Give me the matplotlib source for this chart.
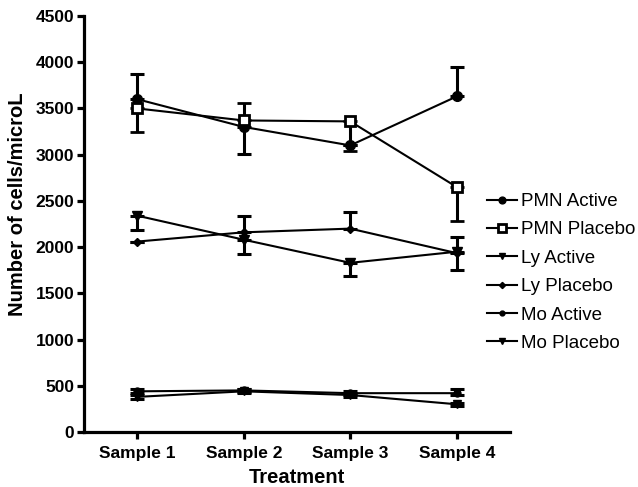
import matplotlib
matplotlib.use('Agg')
from matplotlib import pyplot as plt
from matplotlib.lines import Line2D
import numpy as np

plt.rcParams['font.family'] = ['Liberation Sans', 'DejaVu Sans']

# x categories
samples = ['Sample 1', 'Sample 2', 'Sample 3', 'Sample 4']

# means per series
pmn_active = [3600, 3300, 3100, 3630]
pmn_placebo = [3500, 3370, 3360, 2650]
ly_active = [2340, 2080, 1830, 1950]
ly_placebo = [2060, 2160, 2200, 1935]
mo_active = [440, 450, 420, 420]
mo_placebo = [380, 440, 400, 300]

# error bars (lower, upper)
pmn_active_err = [[0, 290, 0, 0], [270, 0, 0, 320]]
pmn_placebo_err = [[260, 0, 320, 370], [0, 190, 0, 0]]
ly_active_err = [[150, 150, 140, 200], [0, 0, 0, 0]]
ly_placebo_err = [[0, 0, 0, 0], [0, 180, 185, 170]]
mo_active_err = [[20, 20, 20, 20], [20, 20, 20, 50]]
mo_placebo_err = [[20, 20, 20, 15], [20, 20, 20, 15]]

series = [
    ('PMN Active', pmn_active, pmn_active_err, dict(marker='o', ms=7, mfc='black')),
    ('PMN Placebo', pmn_placebo, pmn_placebo_err, dict(marker='s', ms=7.5, mfc='white', mew=2)),
    ('Ly Active', ly_active, ly_active_err, dict(marker='v', ms=6.5, mfc='black')),
    ('Ly Placebo', ly_placebo, ly_placebo_err, dict(marker='D', ms=4.5, mfc='black')),
    ('Mo Active', mo_active, mo_active_err, dict(marker='o', ms=5, mfc='black')),
    ('Mo Placebo', mo_placebo, mo_placebo_err, dict(marker='v', ms=5.5, mfc='black')),
]

fig = plt.figure(figsize=(6.38, 4.87), dpi=100)
ax = fig.add_axes([84 / 638, 1 - 432 / 487, (510 - 84) / 638, (432 - 16) / 487])

x = np.arange(1, len(samples) + 1)
handles = []
for name, vals, err, style in series:
    ax.errorbar(x, vals, yerr=np.array(err), color='black', mec='black',
                lw=1.5, elinewidth=2.2, capsize=5, capthick=2.2, **style)
    # legend shows just line + marker
    small = dict(style)
    small['ms'] = style['ms'] * 0.7
    handles.append(Line2D([], [], color='black', mec='black', lw=1.5, **small))

ax.set_xlim(0.5, 4.5)
ax.set_ylim(0, 4500)
ax.set_yticks(np.arange(0, 4501, 500))
ax.set_xticks(x)
ax.set_xticklabels(samples)

for s in ['top', 'right']:
    ax.spines[s].set_visible(False)
for s in ['left', 'bottom']:
    ax.spines[s].set_linewidth(2.3)
ax.tick_params(axis='both', width=2.3, length=5, labelsize=12.5, pad=2)
ax.tick_params(axis='x', pad=5)
for lab in ax.get_xticklabels() + ax.get_yticklabels():
    lab.set_fontweight('bold')

ax.set_xlabel('Treatment', fontsize=14.5, fontweight='bold', labelpad=5)
ax.set_ylabel('Number of cells/microL', fontsize=14.5, fontweight='bold')
ax.yaxis.set_label_coords(-0.134, 0.548)

fig.legend(handles=handles, labels=[s[0] for s in series],
           loc='upper left', bbox_to_anchor=(487 / 638, 1 - 193 / 487),
           frameon=False, fontsize=13.5, handlelength=1.6,
           handletextpad=0.2, labelspacing=0.6, borderpad=0, borderaxespad=0)

fig.savefig('out.png', dpi=100)
